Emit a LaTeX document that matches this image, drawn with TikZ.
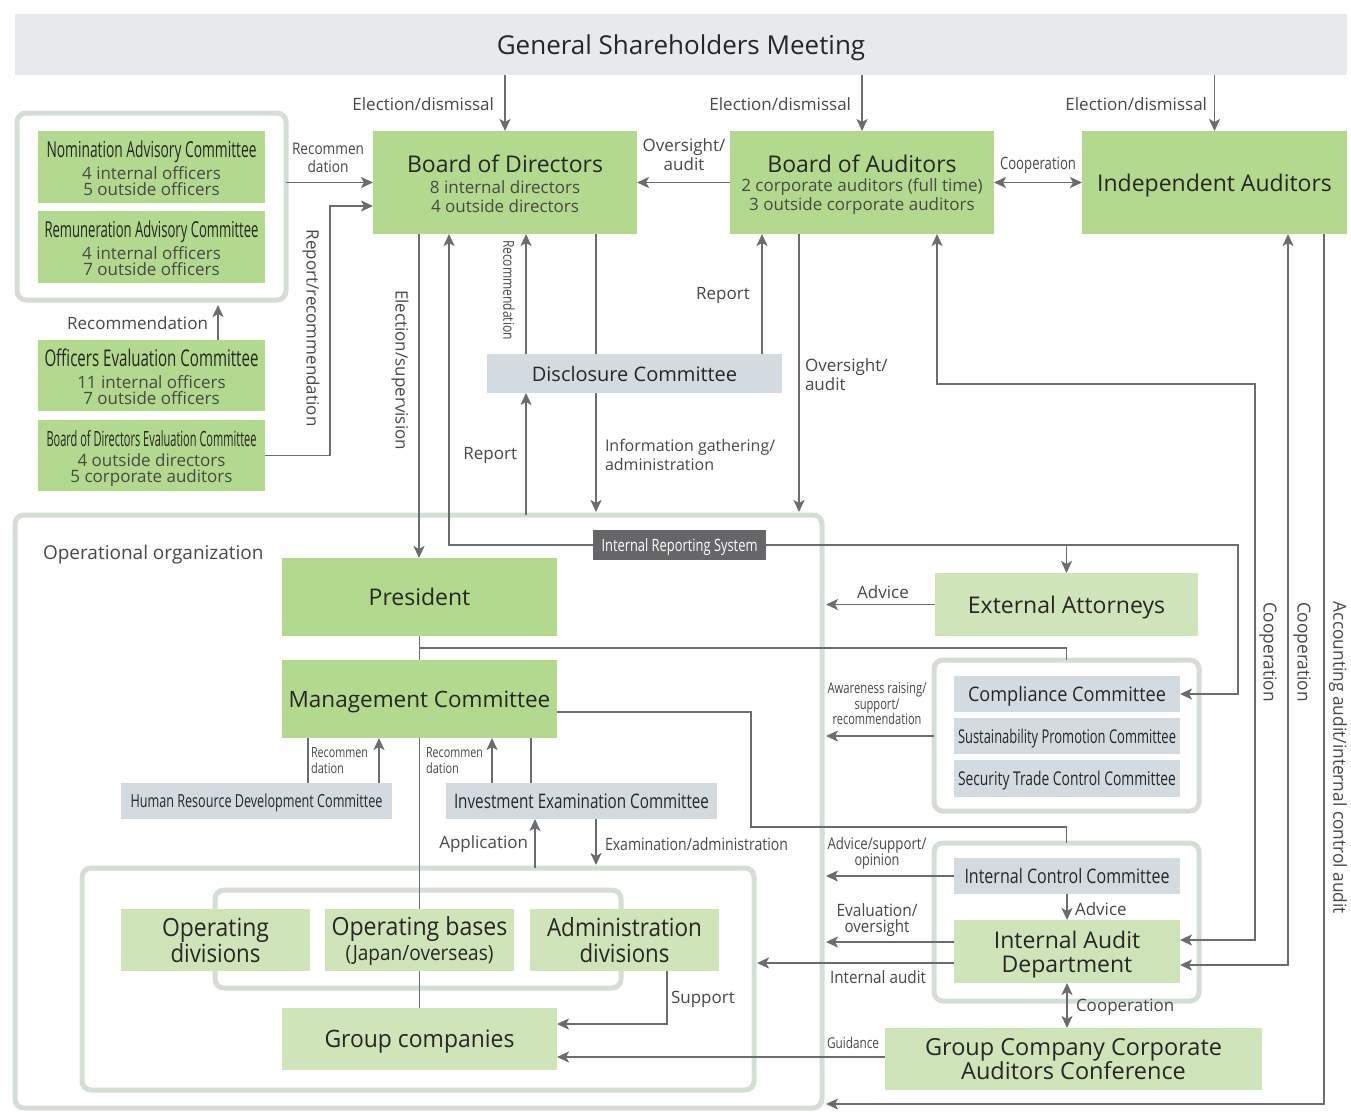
\documentclass[tikz,border=0pt]{standalone}
\usepackage{fontspec}
\setmainfont{Open Sans}
\usepackage{graphicx}
\usetikzlibrary{arrows.meta}
\definecolor{cgreen}{RGB}{179,217,142}
\definecolor{clight}{RGB}{207,229,185}
\definecolor{cgray}{RGB}{211,219,224}
\definecolor{ctop}{RGB}{230,234,237}
\definecolor{cframe}{RGB}{213,222,213}
\definecolor{carrow}{RGB}{108,108,112}
\definecolor{ctext}{RGB}{72,72,72}
\definecolor{cdark}{RGB}{38,38,38}
\definecolor{cirs}{RGB}{102,102,104}
\newcommand\fw[2]{\resizebox{#1pt}{\height}{#2}}
\newcommand\fsz[2]{\fontsize{#1}{#2}\selectfont}
\newcommand\bx[8][]{\node[#2,minimum width={(#6-#4)*1pt},minimum height={(#7-#5)*1pt},#1] (#3) at ({(#4+#6)/2},{(#5+#7)/2}) {#8};}
\begin{document}
\begin{tikzpicture}[x=1pt,y=-1pt,
  fillbox/.style={inner sep=0pt,outer sep=0pt,draw=none,text=cdark,align=center,text depth=0pt},
  gbox/.style={fillbox,fill=cgreen},
  lbox/.style={fillbox,fill=clight},
  sbox/.style={fillbox,fill=cgray},
  topbox/.style={fillbox,fill=ctop},
  irsbox/.style={fillbox,fill=cirs,text=white},
  frame/.style={draw=cframe,line width=5pt,rounded corners=9pt,inner sep=0pt,outer sep=0pt},
  conn/.style={draw=carrow,line width=1.8pt},
  arr/.style={conn,-{Stealth[length=12pt,width=11pt,inset=3pt]}},
  darr/.style={conn,{Stealth[length=12pt,width=11pt,inset=3pt]}-{Stealth[length=12pt,width=11pt,inset=3pt]}},
  lbl/.style={text=ctext,inner sep=0pt,outer sep=0pt,align=center,font=\fsz{17}{19}},
  ttl/.style={text=cdark,inner sep=0pt,outer sep=0pt,align=center},
]
\useasboundingbox (0,0) rectangle (1351,1111);
\fill[white] (0,0) rectangle (1351,1111);
\coordinate (R) at (826,0);

% ---------- frames ----------
\bx{frame}{advfr}{17}{113}{286}{300}{}
\bx{frame}{opfr}{15}{515}{822}{1108}{}
\bx{frame}{bfr}{82}{868}{754}{1090}{}
\bx{frame}{ifr}{215}{890}{621}{988}{}
\bx{frame}{cfr}{934}{660}{1199}{811}{}
\bx{frame}{icfr}{934}{843}{1199}{1001}{}

% ---------- top ----------
\bx[font=\fsz{26}{30}]{topbox}{gsm}{15}{14}{1347}{75}{General Shareholders Meeting}
\bx{gbox}{bod}{373}{131}{637}{234}{}
\bx{gbox}{boa}{730}{131}{994}{234}{}
\bx[font=\fsz{23}{26}]{gbox}{ia}{1082}{131}{1347}{234}{Independent Auditors}
\node[ttl,font=\fsz{23}{26}] (bodt) at (505,164) {Board of Directors};
\node[lbl,font=\fsz{17}{19}] (bods) at (505,196.5) {8 internal directors\\4 outside directors};
\node[ttl,font=\fsz{23}{26}] (boat) at (862,164) {Board of Auditors};
\node[lbl,font=\fsz{17}{19}] (boas) at (862,196.5) {2 corporate auditors (full time)\\3 outside corporate auditors};

% ---------- left committees ----------
\bx{gbox}{nac}{38}{131}{265}{203}{}
\node[ttl,font=\fsz{22}{24}] (nact) at (151.5,152) {\fw{210}{Nomination Advisory Committee}};
\node[lbl,font=\fsz{17}{16}] (nacs) at (151.5,181) {4 internal officers\\5 outside officers};
\bx{gbox}{rac}{38}{211}{265}{283}{}
\node[ttl,font=\fsz{22}{24}] (ract) at (151.5,232) {\fw{214}{Remuneration Advisory Committee}};
\node[lbl,font=\fsz{17}{16}] (racs) at (151.5,261) {4 internal officers\\7 outside officers};
\bx{gbox}{oec}{38}{340}{265}{411}{}
\node[ttl,font=\fsz{23}{24}] (oect) at (151.5,358) {\fw{214}{Officers Evaluation Committee}};
\node[lbl,font=\fsz{17}{16}] (oecs) at (151.5,390) {11 internal officers\\7 outside officers};
\bx{gbox}{bodec}{38}{420}{265}{491}{}
\node[ttl,font=\fsz{21}{24}] (bodect) at (151.5,439) {\fw{210}{Board of Directors Evaluation Committee}};
\node[lbl,font=\fsz{17}{16}] (bodecs) at (151.5,470) {4 outside directors\\5 corporate auditors};

% ---------- middle ----------
\bx[font=\fsz{17}{19}]{irsbox}{irs}{593}{530}{766}{560}{\fw{156}{Internal Reporting System}}
\bx[font=\fsz{20}{22}]{sbox}{dc}{487}{354}{782}{393}{Disclosure Committee}
\bx[font=\fsz{23}{26}]{gbox}{pres}{282}{558}{557}{636}{President}
\bx[font=\fsz{22.5}{26}]{gbox}{mc}{282}{660}{557}{738}{Management Committee}
\bx[font=\fsz{18}{20}]{sbox}{hrdc}{121}{783}{392}{819}{\fw{252}{Human Resource Development Committee}}
\bx[font=\fsz{20}{22}]{sbox}{iec}{446}{783}{717}{819}{\fw{255}{Investment Examination Committee}}
\bx[font=\fsz{25}{26}]{lbox}{opd}{121}{909}{310}{971}{\fw{107}{Operating}\\\fw{90}{divisions}}
\bx{lbox}{opb}{325}{909}{514}{971}{}
\node[ttl,font=\fsz{25}{26}] (opbt) at (419.5,929) {\fw{176}{Operating bases}};
\node[ttl,font=\fsz{21}{24}] (opbs) at (419.5,956) {\fw{148}{(Japan/overseas)}};
\bx[font=\fsz{25}{26}]{lbox}{adm}{530}{909}{719}{971}{\fw{155}{Administration}\\\fw{90}{divisions}}
\bx[font=\fsz{24}{26}]{lbox}{gc}{282}{1008}{557}{1070}{\fw{190}{Group companies}}

% ---------- right ----------
\bx[font=\fsz{23}{26}]{lbox}{ea}{935}{573}{1198}{636}{External Attorneys}
\bx[font=\fsz{20}{22}]{sbox}{cc}{954}{676}{1180}{712}{\fw{198}{Compliance Committee}}
\bx[font=\fsz{19}{21}]{sbox}{spc}{954}{718}{1180}{754}{\fw{218}{Sustainability Promotion Committee}}
\bx[font=\fsz{19}{21}]{sbox}{stc}{954}{760}{1180}{797}{\fw{218}{Security Trade Control Committee}}
\bx[font=\fsz{20}{22}]{sbox}{icc}{954}{858}{1180}{894}{\fw{205}{Internal Control Committee}}
\bx[font=\fsz{23}{24}]{lbox}{iad}{954}{920}{1180}{983}{Internal Audit\\Department}
\bx[font=\fsz{23.5}{24}]{lbox}{gccac}{885}{1028}{1262}{1090}{Group Company Corporate\\Auditors Conference}

% ---------- connectors: top ----------
\draw[arr] (gsm.south -| bod.north) -- (bod.north);
\draw[arr] (gsm.south -| boa.north) -- (boa.north);
\draw[arr] (gsm.south -| ia.north) -- (ia.north);
\node[lbl,anchor=east] (el1) at (494,104) {Election/dismissal};
\node[lbl,anchor=east] (el2) at (851,104) {Election/dismissal};
\node[lbl,anchor=east] (el3) at (1207,104) {Election/dismissal};
\draw[arr] (boa.west) -- (bod.east);
\node[lbl] (ovl) at (684,155) {Oversight/\\audit};
\draw[darr] (boa.east) -- (ia.west);
\node[lbl] (coop1) at (1038,165) {\fw{76}{Cooperation}};

% ---------- connectors: left ----------
\draw[arr] (advfr.east |- bod.west) -- (bod.west);
\node[lbl,font=\fsz{16}{18}] (rec1) at (328,158) {\fw{72}{Recommen}\\\fw{41}{dation}};
\draw[arr] (bodec.east) -| (330,206) -- (bod.west |- 0,206);
\node[lbl,rotate=-90] (rrl) at (311,328) {Report/recommendation};
\draw[arr,shorten >=5pt] (oec.north -| 218,0) -- (advfr.south -| 218,0);
\node[lbl,anchor=east] (recl) at (208,323) {Recommendation};

% ---------- connectors: middle ----------
\draw[arr] (bod.south -| 419,0) -- (pres.north -| 419,0);
\node[lbl,rotate=-90] (esl) at (400,370) {Election/supervision};
\draw[arr] (irs.west) -| (bod.south -| 449,0);
\draw[arr] (irs.east) -| (cc.east -| 1238,0) -- (cc.east);
\draw[arr] (ea.north |- irs.east) -- (ea.north);
\draw[arr] (dc.north -| 526,0) -- (bod.south -| 526,0);
\node[lbl,rotate=-90,font=\fsz{15}{17}] (dcrl) at (509,290) {\fw{100}{Recommendation}};
\draw[conn] (bod.south -| 596,0) -- (dc.north -| 596,0);
\draw[arr,shorten >=3pt] (dc.south -| 596,0) -- (opfr.north -| 596,0);
\node[lbl,anchor=west,align=left,font=\fsz{16}{19}] (igl) at (605,454.5) {Information gathering/\\administration};
\draw[arr] (opfr.north -| 526,0) -- (dc.south -| 526,0);
\node[lbl,anchor=east] (rep1) at (517,455) {Report};
\draw[arr] (dc.north -| 762,0) -- (boa.south -| 762,0);
\node[lbl] (rep2) at (723,295) {Report};
\draw[arr,shorten >=3pt] (boa.south -| 799,0) -- (opfr.north -| 799,0);
\node[lbl,anchor=west,align=left] (ova) at (805,374.5) {Oversight/\\audit};

% ---------- connectors: right ----------
\draw[darr] (boa.south -| 937,0) |- (1255,384) |- (iad.east |- 0,940);
\draw[darr] (ia.south -| 1288,0) |- (iad.east |- 0,965);
\draw[arr] (ia.south -| 1324,0) |- (R |- 0,1104);
\node[lbl,rotate=-90,font=\fsz{18}{20}] (cpl1) at (1268,652) {\fw{100}{Cooperation}};
\node[lbl,rotate=-90,font=\fsz{18}{20}] (cpl2) at (1302,652) {\fw{100}{Cooperation}};
\node[lbl,rotate=-90,font=\fsz{18}{20}] (acl) at (1338,758) {\fw{312}{Accounting audit/internal control audit}};

% ---------- operational organization ----------
\node[lbl,anchor=west,font=\fsz{19}{21}] (opl) at (43,555) {Operational organization};
\draw[conn] (pres.south) -- (mc.north);
\draw[conn] (pres.south |- 0,648) -| (cfr.north);
\draw[conn] (mc.east |- 0,712) -| (751,827) -| (icfr.north);
\draw[conn] (mc.south -| 308,0) -- (hrdc.north -| 308,0);
\draw[arr] (hrdc.north -| 379,0) -- (mc.south -| 379,0);
\node[lbl,anchor=west,align=left,font=\fsz{14}{16}] (rd1) at (311,761) {\fw{57}{Recommen}\\\fw{33}{dation}};
\draw[arr] (iec.north -| 492,0) -- (mc.south -| 492,0);
\draw[conn] (mc.south -| 531,0) -- (iec.north -| 531,0);
\node[lbl,anchor=west,align=left,font=\fsz{14}{16}] (rd2) at (426,761) {\fw{57}{Recommen}\\\fw{33}{dation}};
\draw[arr] (bfr.north -| 535,0) -- (iec.south -| 535,0);
\node[lbl,anchor=east] (appl) at (528,844) {Application};
\draw[arr,shorten >=3pt] (iec.south -| 596,0) -- (bfr.north -| 596,0);
\node[lbl,anchor=west] (exl) at (605,844) {\fw{183}{Examination/administration}};
\draw[conn] (mc.south) -- (opb.north);
\draw[conn] (opb.south) -- (gc.north);
\draw[arr] (adm.south -| 667,0) |- (gc.east |- 0,1024);
\node[lbl,anchor=west] (supl) at (671,999) {Support};
\draw[arr] (gccac.west |- 0,1057) -- (gc.east |- 0,1057);
\node[lbl,font=\fsz{15}{17}] (guil) at (853,1043) {\fw{52}{Guidance}};

% ---------- right column connectors ----------
\draw[arr] (ea.west) -- (R |- ea.west);
\node[lbl] (advl) at (883,592) {Advice};
\draw[arr] (cfr.west |- spc.west) -- (R |- spc.west);
\node[lbl,font=\fsz{15}{15.5}] (awl) at (877,704) {\fw{99}{Awareness raising/}\\\fw{45}{support/}\\\fw{89}{recommendation}};
\draw[arr] (icc.south) -- (iad.north);
\node[lbl,anchor=west] (adv2) at (1075,909) {Advice};
\draw[arr] (icc.west) -- (R |- icc.west);
\node[lbl,font=\fsz{16}{16}] (asol) at (877,853) {\fw{99}{Advice/support/}\\\fw{45}{opinion}};
\draw[arr] (iad.west |- 0,942) -- (R |- 0,942);
\node[lbl,font=\fsz{17}{16}] (evl) at (877,920) {\fw{81}{Evaluation/}\\\fw{65}{oversight}};
\draw[arr,shorten >=3pt] (iad.west |- 0,963) -- (bfr.east |- 0,963);
\node[lbl] (ial) at (878,977) {\fw{96}{Internal audit}};
\draw[darr] (iad.south) -- (gccac.north -| iad.south);
\node[lbl,anchor=west] (cpl3) at (1076,1007) {Cooperation};
\end{tikzpicture}
\end{document}
